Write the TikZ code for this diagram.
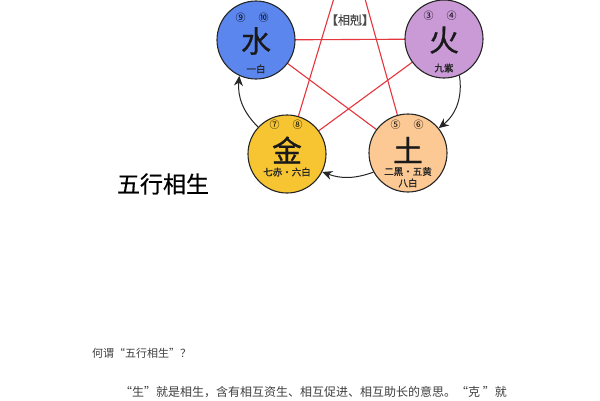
\documentclass[tikz,border=0pt]{standalone}
\usepackage{fontspec}
\setmainfont{Noto Sans CJK SC}
\newfontfamily\cjkbf[FakeBold=1.2]{Noto Sans CJK SC}
\newfontfamily\cjkmid[FakeBold=0.6]{Noto Sans CJK SC}
\usetikzlibrary{arrows.meta}
\definecolor{shuic}{HTML}{5B86EE}
\definecolor{huoc}{HTML}{C99AD6}
\definecolor{jinc}{HTML}{F7C531}
\definecolor{tuc}{HTML}{FCC893}
\definecolor{kec}{HTML}{E5353D}
\begin{document}
\begin{tikzpicture}[x=1pt,y=-1pt,
  elem/.style={circle,draw=black!85,line width=1.1pt,minimum size=78pt,inner sep=0pt},
  kel/.style={draw=kec,line width=1.1pt},
  sheng/.style={draw=black!85,line width=1pt,-{Stealth[length=10pt,width=9pt]}},
  big/.style={font=\cjkmid\fontsize{30}{30}\selectfont,inner sep=0pt,text=black!90},
  num/.style={font=\fontsize{10}{10}\selectfont,inner sep=0pt},
  small/.style={font=\cjkbf\fontsize{9.5}{10}\selectfont,inner sep=0pt,text=black!85}]
\useasboundingbox (0,0) rectangle (600,400);
\clip (0,0) rectangle (600,400);
\fill[white] (0,0) rectangle (600,400);
% centres
\coordinate (mu) at (350,-55);
\coordinate (cshui) at (256,40);
\coordinate (chuo) at (444,39);
\coordinate (cjin) at (287,154);
\coordinate (ctu) at (408,153);
% xiang ke pentagram
\draw[kel] (mu) -- (cjin);
\draw[kel] (mu) -- (ctu);
\draw[kel] (cshui) -- (chuo);
\draw[kel] (cshui) -- (ctu);
\draw[kel] (chuo) -- (cjin);
\node[font=\cjkmid\fontsize{12}{12}\selectfont,text=black!70,inner sep=0pt] (kelabel) at (350,20) {【相剋】};
% circles
\node[elem,fill=shuic] (shui) at (cshui) {};
\node[elem,fill=huoc] (huo) at (chuo) {};
\node[elem,fill=jinc] (jin) at (cjin) {};
\node[elem,fill=tuc] (tu) at (ctu) {};
% texts in circles
\node[num] (shuin) at (252,18) {⑨\hspace{13pt}⑩};
\node[big] (shuit) at (256,41) {水};
\node[small] (shuil) at (256,69) {一白};
\node[num] (huon) at (440,16) {③\hspace{13pt}④};
\node[big] (huot) at (444,40) {火};
\node[small] (huol) at (444,68) {九紫};
\node[num] (jinn) at (286,125) {⑦\hspace{13pt}⑧};
\node[big] (jint) at (287,150) {金};
\node[small] (jinl) at (287,172) {七赤・六白};
\node[num] (tun) at (407,125) {⑤\hspace{13pt}⑥};
\node[big] (tut) at (408,150) {土};
\node[small] (tul) at (408,171.5) {二黑・五黄};
\node[small] (tul2) at (408,183) {八白};
% xiang sheng arrows
\draw[sheng] (huo.-67) to[bend left=30] (tu.39);
\draw[sheng] (tu.-151) to[bend left=20] (jin.-27);
\draw[sheng] (jin.137) to[bend left=25] (shui.-115);
% texts
\node[font=\cjkmid\fontsize{23}{23}\selectfont,inner sep=0pt] (title) at (163,184) {五行相生};
\node[anchor=west,font=\fontsize{11}{11}\selectfont,text=black!75,inner sep=0pt] (q) at (92,353) {何谓“五行相生”？};
\node[anchor=west,font=\fontsize{12}{12}\selectfont,text=black!75,inner sep=0pt] (p) at (120,392) {“生”就是相生，含有相互资生、相互促进、相互助长的意思。“克 ”就};
\end{tikzpicture}
\end{document}
